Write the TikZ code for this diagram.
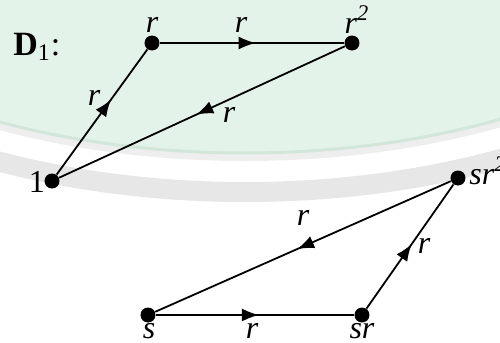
\documentclass[tikz,border=0pt]{standalone}
\usepackage{fontspec}
\setmainfont{Liberation Serif}
\usetikzlibrary{arrows.meta,decorations.markings}
\definecolor{wmgreen}{HTML}{E4F3EA}
\definecolor{wmedge}{HTML}{D3E6DA}
\definecolor{wmgray}{HTML}{E7E7E7}
\tikzset{
  dot/.style={circle, fill=black, inner sep=0pt, minimum size=7.5pt},
  lbl/.style={anchor=base, inner sep=0pt, font=\fontsize{16}{18}\selectfont\itshape},
  midarrow/.style={line width=0.9pt, postaction={decorate},
    decoration={markings, mark=at position #1 with {\arrow{Latex[length=8.5pt,width=6.5pt]}}}},
  midarrow/.default=0.52,
}
\begin{document}
\begin{tikzpicture}[x=0.5pt, y=-0.5pt]
  \useasboundingbox (0,0) rectangle (500,343);
  % background of the page
  \begin{scope}
    \clip (0,0) rectangle (500,343);
    \draw[wmgray, line width=10pt] (245,-147) ellipse [x radius=296.5pt, y radius=169.5pt];
    \draw[wmgray!70, line width=4pt] (245,-147) ellipse [x radius=278.5pt, y radius=152pt];
    \fill[wmgreen] (245,-147) ellipse [x radius=276.5pt, y radius=150pt];
    \draw[wmedge, line width=1.5pt] (245,-147) ellipse [x radius=276.5pt, y radius=150pt];
  \end{scope}
  % top: the cycle 1, r, r^2
  \node[anchor=base west, inner sep=0pt, font=\fontsize{17}{19}\selectfont] (title) at (13,55) {\textbf{D}\textsubscript{1}:};
  \node[dot] (e) at (52,181) {};
  \node[dot] (r1) at (152,43) {};
  \node[dot] (r2) at (352,43) {};
  \draw[midarrow=0.6] (e) -- (r1);
  \draw[midarrow] (r1) -- (r2);
  \draw[midarrow] (r2) -- (e);
  \node[lbl, font=\fontsize{16}{18}\selectfont] (le) at (37,192) {1};
  \node[lbl] (lr1) at (152,32) {r};
  \node[lbl] (lr2) at (357,33) {r\textsuperscript{2}};
  \node[lbl] (la) at (94,105) {r};
  \node[lbl] (lb) at (241,32) {r};
  \node[lbl] (lc) at (229,122) {r};
  % bottom: the coset s, sr, sr^2
  \node[dot] (s) at (148,315) {};
  \node[dot] (sr) at (362,315) {};
  \node[dot] (sr2) at (458,178) {};
  \draw[midarrow] (s) -- (sr);
  \draw[midarrow] (sr) -- (sr2);
  \draw[midarrow] (sr2) -- (s);
  \node[lbl] (ls) at (149,338) {s};
  \node[lbl] (lsr) at (362,338) {sr};
  \node[lbl, anchor=base west] (lsr2) at (469,184) {sr\textsuperscript{2}};
  \node[lbl] (ld) at (252,338) {r};
  \node[lbl] (lf) at (424,253) {r};
  \node[lbl] (lg) at (303,225) {r};
\end{tikzpicture}
\end{document}
